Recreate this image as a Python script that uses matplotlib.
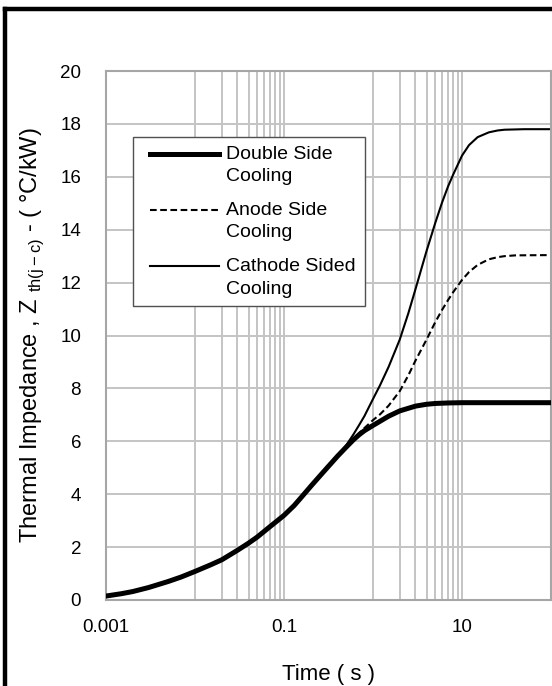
import matplotlib
matplotlib.use("Agg")
import matplotlib.pyplot as plt
from matplotlib.lines import Line2D
from matplotlib.legend_handler import HandlerLine2D

plt.rcParams['font.family'] = ['Liberation Sans', 'DejaVu Sans']
plt.rcParams['mathtext.fontset'] = 'custom'
plt.rcParams['mathtext.rm'] = 'Liberation Sans'

# Thermal impedance curves (time in s, Zth in degC/kW)
# the three curves share the same early part
t_common = [0.001, 0.0015, 0.002, 0.003, 0.005, 0.007, 0.01, 0.015, 0.02, 0.03,
            0.04, 0.05, 0.07, 0.1, 0.13, 0.16, 0.2, 0.25, 0.3, 0.4]
z_common = [0.15, 0.24, 0.32, 0.47, 0.70, 0.87, 1.08, 1.33, 1.52, 1.88,
            2.15, 2.38, 2.78, 3.2, 3.57, 3.92, 4.3, 4.67, 4.97, 5.44]

t_double = t_common + [0.5, 0.6, 0.7, 0.8, 1, 1.5, 2, 3, 4, 5, 7, 10, 100]
z_double = z_common + [5.78, 6.05, 6.25, 6.4, 6.6, 6.95, 7.15, 7.33, 7.4, 7.43, 7.45, 7.46, 7.46]

t_anode = t_common + [0.5, 0.6, 0.7, 0.8, 1, 1.2, 1.5, 2, 2.5, 3, 4, 5, 6, 7, 8, 10,
                      12, 15, 20, 25, 30, 40, 100]
z_anode = z_common + [5.8, 6.08, 6.32, 6.5, 6.8, 7.02, 7.35, 7.9, 8.5, 9.05, 9.85, 10.5,
                      10.98, 11.35, 11.65, 12.1, 12.4, 12.67, 12.88, 12.96, 13.0, 13.03, 13.04]

t_cathode = t_common + [0.5, 0.6, 0.7, 0.8, 1, 1.2, 1.5, 2, 2.5, 3, 4, 5, 6, 7, 8, 10,
                        12, 15, 20, 25, 30, 50, 100]
z_cathode = z_common + [5.85, 6.25, 6.62, 6.95, 7.6, 8.12, 8.82, 9.85, 10.85, 11.75, 13.2, 14.25,
                        15.05, 15.65, 16.1, 16.8, 17.2, 17.5, 17.68, 17.75, 17.78, 17.8, 17.8]

labels = ["Double Side\nCooling", "Anode Side\nCooling", "Cathode Sided\nCooling"]
x_major = [0.001, 0.1, 10]
x_major_labels = ["0.001", "0.1", "10"]
x_minor = [0.01, 0.02, 0.03, 0.04, 0.05, 0.06, 0.07, 0.08, 0.09,
           1, 2, 3, 4, 5, 6, 7, 8, 9]
y_ticks = list(range(0, 21, 2))


class FirstLineHandler(HandlerLine2D):
    # put the legend line beside the first text line, like Excel does
    def create_artists(self, legend, orig_handle, xdescent, ydescent,
                       width, height, fontsize, trans):
        artists = super().create_artists(legend, orig_handle, xdescent, ydescent,
                                         width, height, fontsize, trans)
        for a in artists:
            a.set_ydata([y + 0.6 * fontsize for y in a.get_ydata()])
        return artists


fig = plt.figure(figsize=(5.52, 6.86), dpi=100)
ax = fig.add_axes([106 / 552, 1 - 600 / 686, 445 / 552, 529 / 686])

l1, = ax.plot(t_double, z_double, color='black', lw=3.6, solid_joinstyle='round')
l2, = ax.plot(t_anode, z_anode, color='black', lw=1.5, dashes=[3.2, 1.7])
l3, = ax.plot(t_cathode, z_cathode, color='black', lw=1.5, solid_joinstyle='round')
# keep the thick curve on top where they overlap
l1.set_zorder(4)

ax.set_xscale('log')
ax.set_xlim(0.001, 100)
ax.set_ylim(0, 20)
ax.set_xticks(x_major)
ax.set_xticklabels(x_major_labels)
ax.set_xticks(x_minor, minor=True)
ax.set_xticklabels([], minor=True)
ax.set_yticks(y_ticks)

ax.grid(True, which='both', axis='x', color='#c4c4c4', lw=1.4)
ax.grid(True, which='major', axis='y', color='#c4c4c4', lw=1.4)
ax.set_axisbelow(True)

ax.tick_params(which='both', length=0, labelsize=13.5)
ax.tick_params(axis='x', pad=14)
ax.tick_params(axis='y', pad=18)

for s in ax.spines.values():
    s.set_color('#a6a6a6')
    s.set_linewidth(1.5)

ax.set_xlabel("Time ( s )", fontsize=16, labelpad=20)
ax.set_ylabel(r"Thermal Impedance , Z $_{\mathregular{th(j-c)}}$ - ( °C/kW)", fontsize=17, labelpad=10)

leg = ax.legend([l1, l2, l3], labels, loc='upper left', bbox_to_anchor=(0.0607, 0.875),
                borderaxespad=0, fontsize=14, handlelength=3.98, handletextpad=0.36,
                labelspacing=0.88, borderpad=0.45, fancybox=False, framealpha=1,
                handler_map={Line2D: FirstLineHandler(xpad=0.4)})
for txt in leg.get_texts():
    txt.set_linespacing(1.4)
leg.get_frame().set_edgecolor('#505050')
leg.get_frame().set_linewidth(1.0)

# the black chart-area border (cut off on the right and bottom)
fig.add_artist(Line2D([5 / 552, 5 / 552], [0, 1 - 9 / 686], transform=fig.transFigure,
                      color='black', lw=3.2, solid_capstyle='projecting'))
fig.add_artist(Line2D([5 / 552, 1.01], [1 - 9 / 686, 1 - 9 / 686], transform=fig.transFigure,
                      color='black', lw=3.2, solid_capstyle='projecting'))

fig.savefig("out.png", dpi=100)
